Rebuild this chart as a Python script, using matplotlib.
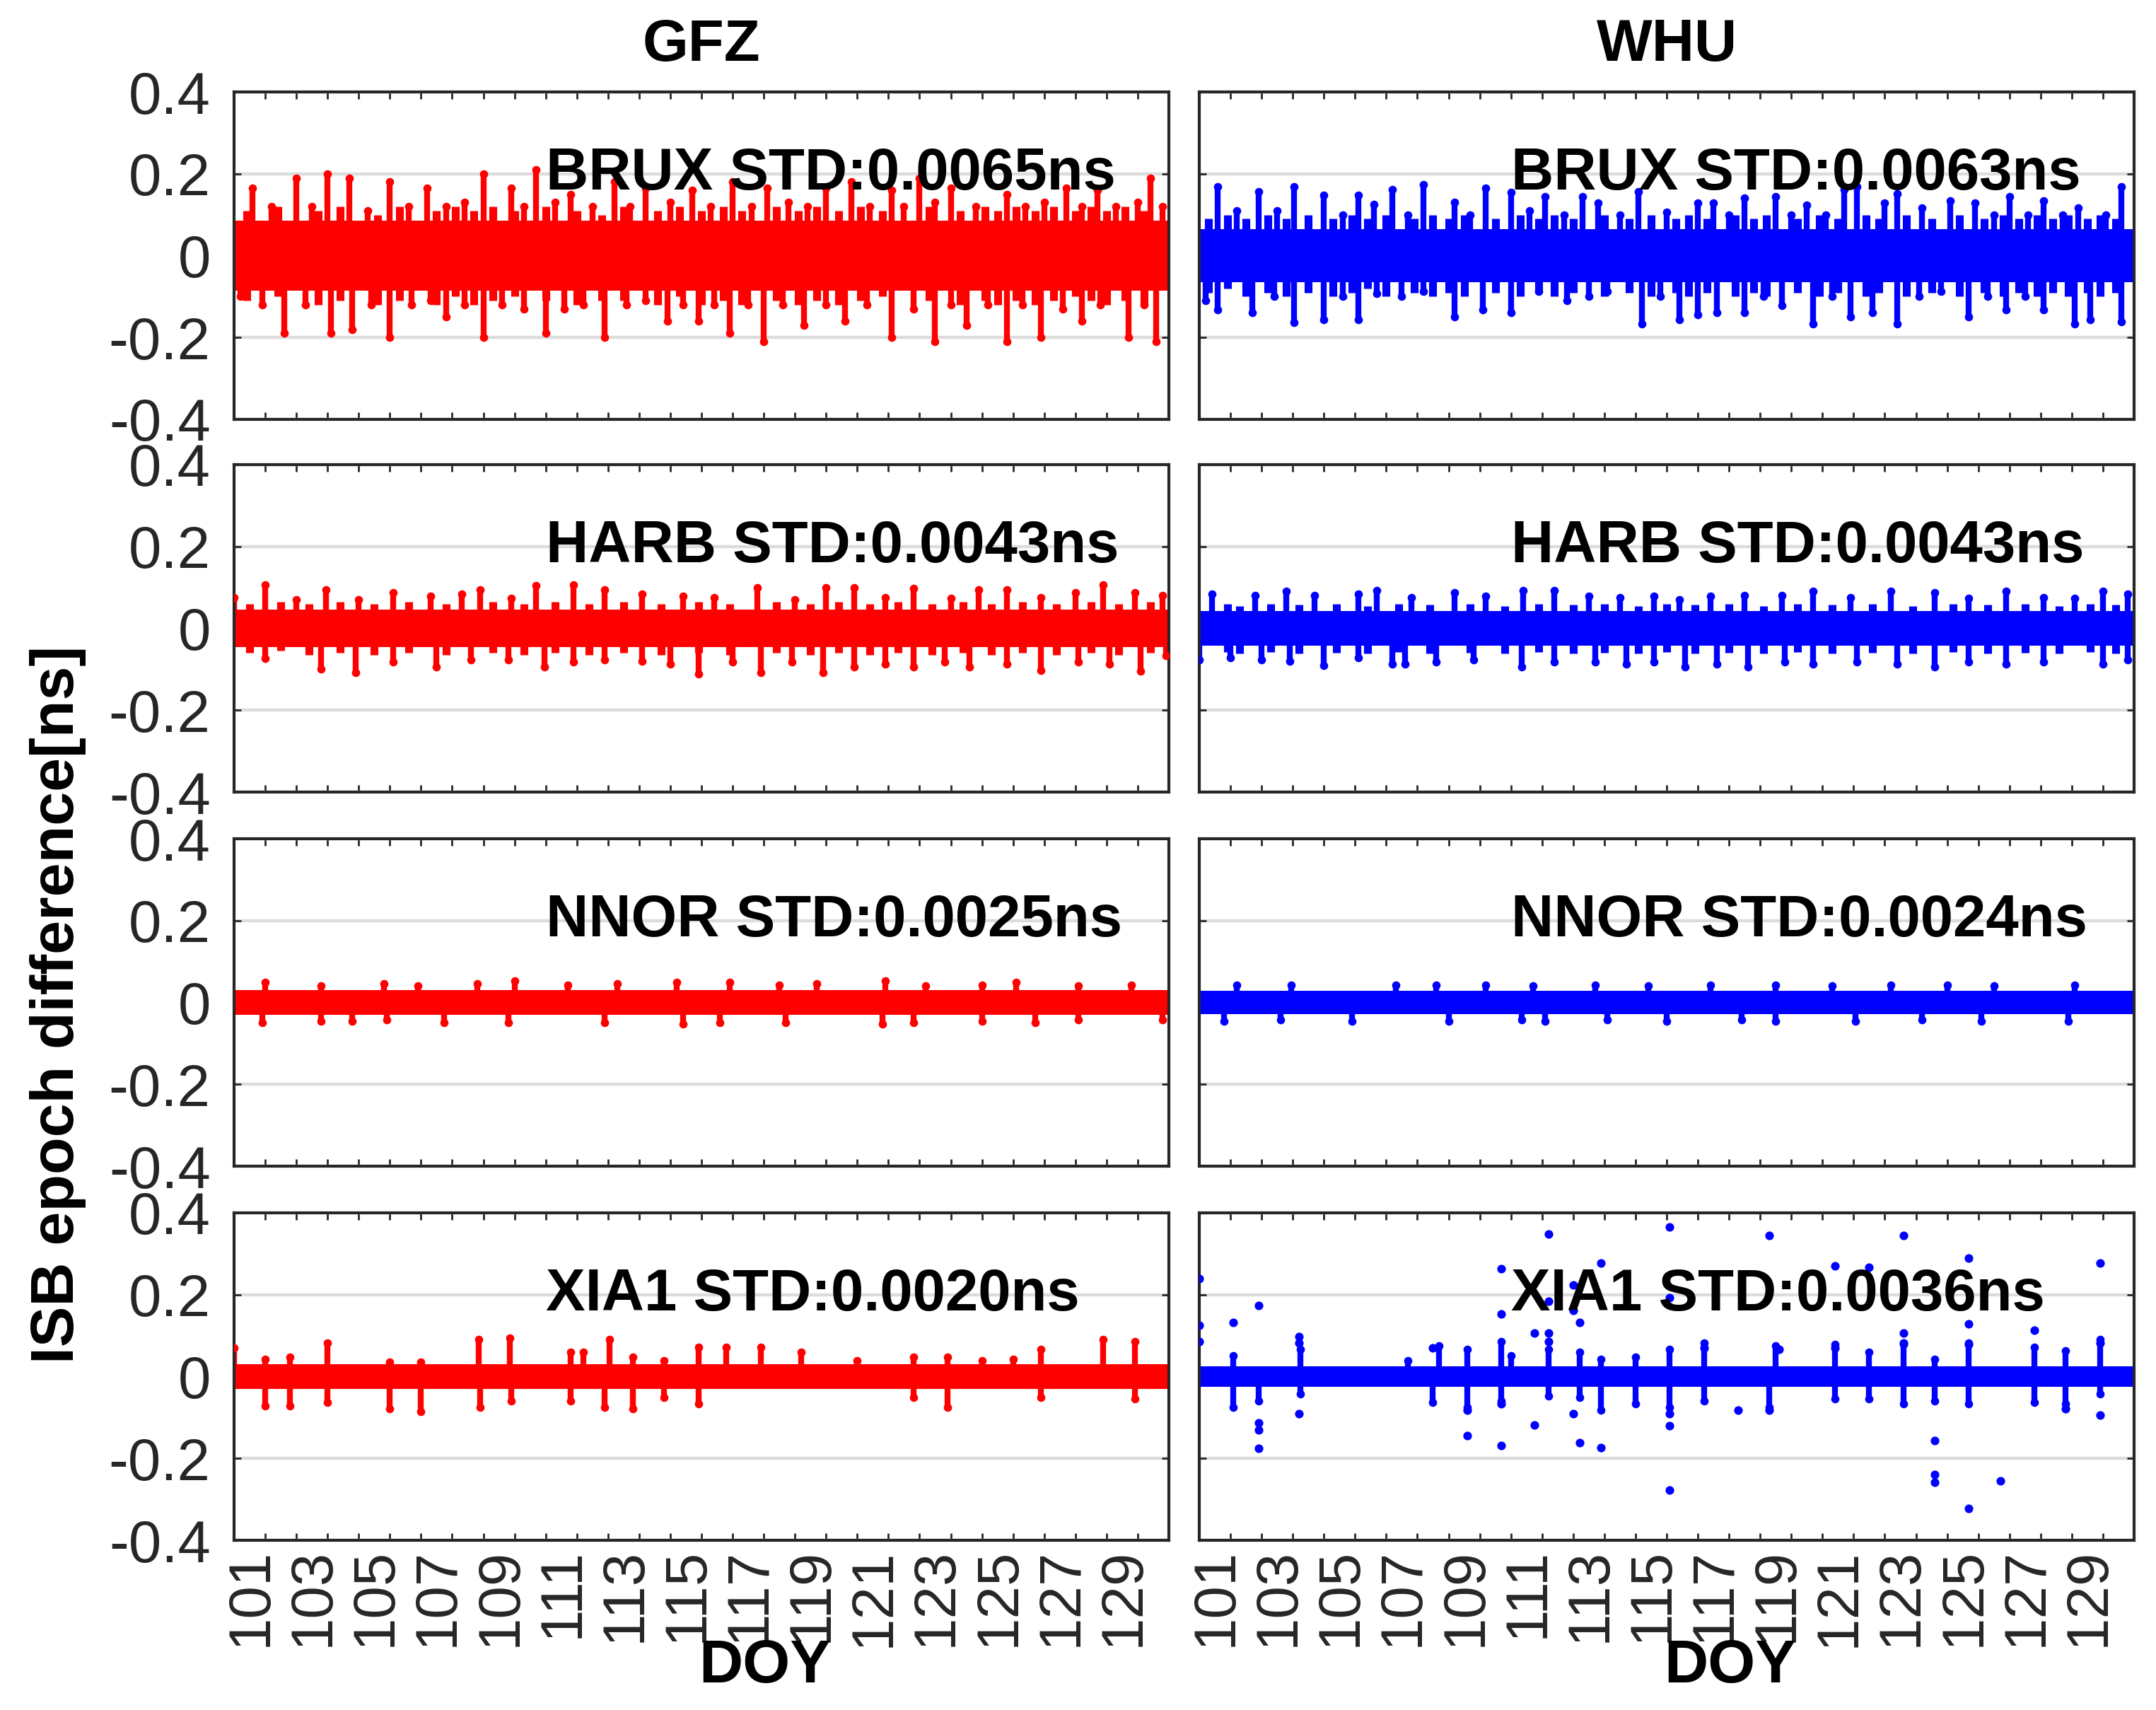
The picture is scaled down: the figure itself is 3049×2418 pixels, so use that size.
import matplotlib
matplotlib.use('Agg')
import matplotlib.pyplot as plt
from matplotlib.transforms import ScaledTranslation

plt.rcParams['font.family'] = ['Liberation Sans', 'DejaVu Sans']

# DOY axis range and labels
doy_start, doy_end = 101, 131
doy_ticks = list(range(101, 132))
doy_labels = [str(d) if (d % 2 == 1 and d <= 129) else '' for d in doy_ticks]
isb_ticks = [-0.4, -0.2, 0, 0.2, 0.4]
isb_labels = ['-0.4', '-0.2', '0', '0.2', '0.4']

centers = ['GFZ', 'WHU']
stations = ['BRUX', 'HARB', 'NNOR', 'XIA1']
std_gfz = ['0.0065', '0.0043', '0.0025', '0.0020']
std_whu = ['0.0063', '0.0043', '0.0024', '0.0036']

# half width of the dense core of each series (ns)
core_gfz = [0.085, 0.045, 0.03, 0.03]
core_whu = [0.065, 0.042, 0.028, 0.025]

# ragged fringe of the core: (DOY, upper, lower)
brux_gfz_fringe = [(101.4, 0.11, -0.11), (102.4, 0.12, -0.10), (103.7, 0.11, -0.12), (104.4, 0.12, -0.11),
                   (105.6, 0.10, -0.12), (106.3, 0.12, -0.11), (107.5, 0.11, -0.12), (108.1, 0.12, -0.10),
                   (108.7, 0.11, -0.12), (109.3, 0.12, -0.11), (110.0, 0.11, -0.10), (111.0, 0.12, -0.11),
                   (112.0, 0.11, -0.12), (112.8, 0.10, -0.11), (113.5, 0.12, -0.11), (114.6, 0.11, -0.12),
                   (115.3, 0.12, -0.10), (116.0, 0.11, -0.12), (116.7, 0.12, -0.11), (117.3, 0.11, -0.12),
                   (118.4, 0.12, -0.11), (119.1, 0.11, -0.12), (119.7, 0.12, -0.11), (120.4, 0.11, -0.12),
                   (121.1, 0.12, -0.11), (121.8, 0.11, -0.10), (123.3, 0.12, -0.11), (124.3, 0.11, -0.12),
                   (125.1, 0.12, -0.11), (125.5, 0.11, -0.12), (126.1, 0.12, -0.11), (126.7, 0.11, -0.12),
                   (127.3, 0.12, -0.11), (128.0, 0.11, -0.10), (128.5, 0.12, -0.11), (129.0, 0.11, -0.12),
                   (129.6, 0.12, -0.11), (130.2, 0.11, -0.12)]
brux_whu_fringe = [(101.3, 0.09, -0.09), (101.9, 0.10, -0.08), (102.5, 0.09, -0.10), (103.2, 0.10, -0.09),
                   (103.8, 0.09, -0.10), (104.5, 0.10, -0.09), (105.3, 0.09, -0.10), (105.9, 0.10, -0.09),
                   (106.4, 0.09, -0.08), (107.0, 0.10, -0.10), (107.9, 0.09, -0.09), (108.5, 0.10, -0.10),
                   (109.0, 0.09, -0.09), (109.5, 0.10, -0.10), (110.5, 0.09, -0.09), (111.3, 0.10, -0.10),
                   (111.9, 0.09, -0.09), (112.4, 0.10, -0.10), (113.0, 0.09, -0.09), (114.0, 0.10, -0.10),
                   (114.8, 0.09, -0.09), (115.5, 0.10, -0.10), (116.3, 0.09, -0.09), (116.7, 0.10, -0.10),
                   (117.3, 0.09, -0.09), (118.2, 0.10, -0.10), (118.8, 0.09, -0.09), (119.2, 0.10, -0.10),
                   (120.2, 0.09, -0.09), (120.9, 0.10, -0.10), (121.5, 0.09, -0.09), (122.4, 0.10, -0.10),
                   (122.8, 0.09, -0.09), (123.7, 0.10, -0.10), (124.5, 0.09, -0.09), (125.4, 0.10, -0.10),
                   (126.2, 0.09, -0.09), (126.8, 0.10, -0.10), (127.3, 0.09, -0.09), (127.9, 0.10, -0.10),
                   (128.4, 0.09, -0.09), (128.9, 0.10, -0.10), (129.5, 0.09, -0.09), (129.9, 0.10, -0.10),
                   (130.4, 0.09, -0.09)]
harb_gfz_fringe = [(101.5, 0.06, -0.06), (102.5, 0.065, -0.055), (103.4, 0.06, -0.065), (104.4, 0.065, -0.06),
                   (105.5, 0.06, -0.065), (106.6, 0.065, -0.06), (107.8, 0.06, -0.065), (109.3, 0.065, -0.06),
                   (110.3, 0.06, -0.065), (111.3, 0.065, -0.06), (112.4, 0.06, -0.065), (113.5, 0.065, -0.06),
                   (114.7, 0.06, -0.065), (115.9, 0.065, -0.06), (116.9, 0.06, -0.065), (118.4, 0.065, -0.06),
                   (119.5, 0.06, -0.065), (120.4, 0.065, -0.06), (121.4, 0.06, -0.065), (122.3, 0.065, -0.06),
                   (123.4, 0.06, -0.065), (124.4, 0.065, -0.06), (125.3, 0.06, -0.065), (126.3, 0.065, -0.06),
                   (127.4, 0.06, -0.065), (128.5, 0.065, -0.06), (129.4, 0.06, -0.065), (130.4, 0.065, -0.06)]
harb_whu_fringe = [(101.9, 0.06, -0.058), (102.3, 0.055, -0.062), (103.3, 0.06, -0.058), (104.2, 0.058, -0.062),
                   (105.4, 0.06, -0.06), (106.4, 0.055, -0.062), (107.4, 0.06, -0.058), (108.4, 0.058, -0.062),
                   (109.7, 0.06, -0.06), (110.8, 0.055, -0.062), (111.9, 0.06, -0.058), (113.0, 0.058, -0.062),
                   (114.0, 0.06, -0.06), (115.1, 0.055, -0.062), (116.0, 0.06, -0.058), (116.9, 0.058, -0.062),
                   (118.0, 0.06, -0.06), (119.1, 0.055, -0.062), (120.2, 0.06, -0.058), (121.3, 0.058, -0.062),
                   (122.6, 0.06, -0.06), (123.9, 0.055, -0.062), (125.2, 0.06, -0.058), (126.3, 0.058, -0.062),
                   (127.5, 0.06, -0.06), (128.6, 0.055, -0.062), (129.6, 0.06, -0.058), (130.4, 0.058, -0.062)]

# spike tips (DOY, ns)
brux_gfz_up = [(101.6, 0.165), (102.2, 0.12), (103.0, 0.19), (103.5, 0.12), (104.0, 0.20), (104.7, 0.19),
               (105.3, 0.11), (106.0, 0.18), (106.6, 0.12), (107.2, 0.165), (107.8, 0.12), (108.4, 0.13),
               (109.0, 0.20), (109.9, 0.165), (110.3, 0.12), (110.7, 0.21), (111.3, 0.13), (111.8, 0.15),
               (112.5, 0.12), (113.2, 0.18), (113.7, 0.12), (114.2, 0.165), (115.0, 0.13), (115.7, 0.16),
               (116.3, 0.12), (117.0, 0.18), (117.6, 0.12), (118.1, 0.165), (118.8, 0.13), (119.4, 0.12),
               (120.0, 0.165), (120.8, 0.18), (121.4, 0.12), (122.1, 0.16), (122.5, 0.12), (123.0, 0.19),
               (123.5, 0.13), (124.0, 0.165), (124.8, 0.12), (125.8, 0.15), (126.4, 0.12), (127.0, 0.13),
               (127.7, 0.165), (128.2, 0.12), (128.7, 0.16), (129.3, 0.12), (130.0, 0.13), (130.4, 0.19),
               (130.8, 0.12)]
brux_gfz_lo = [(101.2, -0.10), (101.9, -0.12), (102.6, -0.19), (103.3, -0.12), (104.1, -0.19), (104.8, -0.18),
               (105.4, -0.12), (106.0, -0.20), (106.7, -0.12), (107.3, -0.11), (107.8, -0.15), (108.4, -0.12),
               (109.0, -0.20), (109.6, -0.12), (110.3, -0.13), (111.0, -0.19), (111.6, -0.13), (112.2, -0.12),
               (112.9, -0.20), (113.6, -0.12), (114.2, -0.11), (114.9, -0.16), (115.4, -0.12), (115.9, -0.16),
               (116.4, -0.12), (116.9, -0.19), (117.5, -0.12), (118.0, -0.21), (118.6, -0.12), (119.3, -0.17),
               (120.0, -0.12), (120.6, -0.16), (121.3, -0.12), (122.1, -0.20), (122.8, -0.13), (123.5, -0.21),
               (124.0, -0.12), (124.5, -0.17), (125.2, -0.12), (125.8, -0.21), (126.3, -0.12), (126.9, -0.20),
               (127.6, -0.13), (128.2, -0.16), (128.8, -0.12), (129.7, -0.20), (130.2, -0.12), (130.6, -0.21)]

brux_whu_up = [(101.6, 0.168), (102.2, 0.11), (102.9, 0.157), (103.5, 0.11), (104.05, 0.168), (105.0, 0.148),
               (105.6, 0.10), (106.1, 0.148), (106.6, 0.126), (107.2, 0.162), (107.7, 0.10), (108.2, 0.174),
               (109.2, 0.131), (109.7, 0.10), (110.2, 0.165), (111.0, 0.154), (111.6, 0.11), (112.1, 0.145),
               (112.7, 0.10), (113.3, 0.145), (113.8, 0.128), (114.5, 0.10), (115.1, 0.157), (116.0, 0.106),
               (117.0, 0.128), (117.5, 0.128), (118.0, 0.10), (118.5, 0.14), (119.5, 0.145), (120.0, 0.10),
               (120.5, 0.123), (121.1, 0.10), (121.7, 0.162), (122.1, 0.168), (123.0, 0.128), (123.4, 0.151),
               (124.2, 0.117), (125.1, 0.134), (125.9, 0.128), (126.5, 0.10), (127.0, 0.145), (127.6, 0.10),
               (128.1, 0.134), (128.7, 0.10), (129.2, 0.117), (130.1, 0.10), (130.6, 0.168)]
brux_whu_lo = [(101.2, -0.11), (101.6, -0.133), (102.7, -0.139), (103.4, -0.10), (104.05, -0.164),
               (105.0, -0.156), (105.6, -0.10), (106.1, -0.156), (106.7, -0.093), (107.5, -0.10), (108.2, -0.088),
               (109.2, -0.15), (110.1, -0.133), (111.0, -0.139), (111.9, -0.088), (112.8, -0.11), (113.5, -0.10),
               (114.1, -0.088), (115.2, -0.167), (115.8, -0.10), (116.4, -0.156), (117.0, -0.144), (117.6, -0.139),
               (118.5, -0.139), (119.1, -0.10), (119.7, -0.122), (120.7, -0.167), (121.3, -0.10), (121.9, -0.15),
               (122.6, -0.139), (123.4, -0.167), (124.1, -0.10), (124.8, -0.088), (125.7, -0.15), (126.3, -0.10),
               (126.9, -0.133), (127.5, -0.10), (128.1, -0.133), (129.1, -0.167), (129.6, -0.156), (130.6, -0.161)]

harb_gfz_up = [(101.0, 0.076), (102.0, 0.107), (103.0, 0.07), (103.95, 0.095), (105.0, 0.07), (106.1, 0.087),
               (107.3, 0.078), (108.3, 0.084), (108.9, 0.095), (109.9, 0.073), (110.7, 0.104), (111.9, 0.107),
               (112.9, 0.095), (114.1, 0.084), (115.4, 0.078), (116.4, 0.076), (117.8, 0.10), (119.0, 0.07),
               (120.0, 0.10), (120.9, 0.10), (121.9, 0.076), (122.8, 0.098), (124.0, 0.073), (124.9, 0.095),
               (125.8, 0.095), (126.9, 0.076), (128.0, 0.087), (128.9, 0.107), (129.9, 0.087), (130.8, 0.081)]
harb_gfz_lo = [(102.0, -0.074), (103.8, -0.099), (104.9, -0.108), (106.1, -0.082), (107.5, -0.094),
               (108.6, -0.077), (109.8, -0.077), (110.96, -0.094), (111.9, -0.082), (112.9, -0.077),
               (114.1, -0.08), (115.0, -0.088), (115.9, -0.111), (117.0, -0.082), (117.9, -0.108),
               (118.9, -0.082), (119.9, -0.108), (120.9, -0.094), (121.9, -0.088), (122.8, -0.094),
               (123.8, -0.082), (124.6, -0.094), (125.8, -0.088), (126.9, -0.102), (128.1, -0.082),
               (129.1, -0.088), (130.1, -0.105), (130.9, -0.066)]

harb_whu_up = [(101.4, 0.084), (102.8, 0.08), (103.8, 0.09), (104.7, 0.08), (106.1, 0.084), (106.7, 0.093),
               (107.8, 0.076), (109.2, 0.087), (110.2, 0.078), (111.4, 0.093), (112.4, 0.093), (113.5, 0.078),
               (114.5, 0.076), (115.6, 0.078), (116.4, 0.07), (117.4, 0.078), (118.5, 0.081), (119.7, 0.081),
               (120.7, 0.09), (121.9, 0.076), (123.2, 0.09), (124.6, 0.087), (125.7, 0.073), (126.9, 0.09),
               (128.1, 0.076), (129.1, 0.073), (130.0, 0.09), (130.8, 0.084)]
harb_whu_lo = [(101.0, -0.077), (102.0, -0.071), (103.0, -0.077), (103.9, -0.08), (105.0, -0.091),
               (106.1, -0.071), (107.2, -0.088), (107.6, -0.088), (108.6, -0.082), (109.8, -0.077),
               (111.35, -0.094), (112.4, -0.082), (113.7, -0.082), (114.7, -0.088), (115.6, -0.082),
               (116.6, -0.094), (117.6, -0.088), (118.6, -0.094), (119.8, -0.082), (120.7, -0.088),
               (122.1, -0.082), (123.4, -0.088), (124.6, -0.094), (125.7, -0.082), (126.9, -0.088),
               (128.1, -0.082), (130.0, -0.088), (130.8, -0.077)]

nnor_gfz_up = [(102.0, 0.049), (103.8, 0.04), (105.8, 0.046), (106.9, 0.04), (108.8, 0.046), (110.0, 0.052),
               (111.7, 0.043), (113.3, 0.046), (115.2, 0.049), (116.9, 0.049), (118.5, 0.043), (119.7, 0.046),
               (121.9, 0.052), (123.2, 0.04), (125.0, 0.043), (126.1, 0.049), (128.1, 0.04), (129.8, 0.043)]
nnor_gfz_lo = [(101.9, -0.049), (103.8, -0.046), (104.8, -0.046), (105.9, -0.043), (107.75, -0.049),
               (109.8, -0.049), (112.9, -0.049), (115.4, -0.052), (116.6, -0.049), (118.7, -0.049),
               (121.8, -0.052), (122.8, -0.049), (125.0, -0.046), (126.7, -0.049), (128.1, -0.043),
               (130.8, -0.043)]

nnor_whu_up = [(102.2, 0.043), (103.96, 0.043), (107.3, 0.043), (108.6, 0.043), (110.2, 0.043), (111.7, 0.04),
               (113.7, 0.043), (115.4, 0.04), (117.4, 0.043), (119.5, 0.043), (121.3, 0.04), (123.2, 0.043),
               (125.0, 0.043), (126.5, 0.04), (129.1, 0.043)]
nnor_whu_lo = [(101.8, -0.046), (103.6, -0.043), (105.9, -0.046), (109.0, -0.046), (111.35, -0.043),
               (112.1, -0.046), (114.1, -0.043), (116.0, -0.046), (118.4, -0.043), (119.5, -0.046),
               (122.05, -0.046), (124.2, -0.043), (126.1, -0.046), (128.9, -0.046)]

xia1_gfz_up = [(101.0, 0.07), (102.0, 0.043), (102.8, 0.047), (104.0, 0.082), (106.0, 0.035), (107.0, 0.035),
               (108.85, 0.09), (109.85, 0.094), (111.8, 0.059), (112.2, 0.059), (113.05, 0.09), (113.8, 0.047),
               (114.8, 0.039), (115.9, 0.071), (116.8, 0.071), (117.9, 0.071), (119.2, 0.059), (121.0, 0.039),
               (122.8, 0.047), (123.9, 0.047), (125.0, 0.039), (126.0, 0.043), (126.9, 0.067), (128.9, 0.09),
               (129.9, 0.086)]
xia1_gfz_lo = [(102.0, -0.071), (102.8, -0.071), (104.0, -0.063), (106.0, -0.078), (107.0, -0.086),
               (108.9, -0.075), (109.9, -0.059), (111.8, -0.059), (112.9, -0.075), (113.8, -0.078),
               (114.8, -0.051), (115.9, -0.067), (122.8, -0.051), (123.9, -0.075), (126.9, -0.051),
               (129.9, -0.055)]

xia1_whu_up = [(102.1, 0.051), (104.25, 0.067), (107.7, 0.039), (108.7, 0.075), (109.6, 0.067), (110.7, 0.086),
               (111.0, 0.051), (112.2, 0.067), (113.2, 0.059), (113.9, 0.043), (115.0, 0.047), (116.1, 0.067),
               (117.2, 0.082), (119.5, 0.075), (121.4, 0.078), (122.5, 0.059), (123.6, 0.078), (124.6, 0.043),
               (125.7, 0.082), (127.8, 0.071), (128.8, 0.063), (129.9, 0.09)]
xia1_whu_lo = [(102.1, -0.075), (102.9, -0.059), (104.25, -0.043), (108.5, -0.063), (109.6, -0.075),
               (110.7, -0.059), (112.2, -0.047), (113.2, -0.051), (113.9, -0.082), (115.0, -0.067),
               (116.1, -0.075), (117.2, -0.059), (119.3, -0.075), (121.4, -0.055), (122.5, -0.055),
               (123.6, -0.067), (124.6, -0.059), (125.7, -0.067), (127.8, -0.063), (128.8, -0.067),
               (129.9, -0.043)]
# isolated outliers of the WHU XIA1 series
xia1_whu_dots = [(101.0, 0.239), (101.0, 0.125), (101.0, 0.086), (102.1, 0.133), (102.9, 0.173),
                 (102.9, -0.114), (102.9, -0.13), (102.9, -0.176), (104.2, 0.098), (104.2, 0.082),
                 (104.2, -0.09), (108.5, 0.07), (109.6, -0.082), (109.6, -0.145), (110.7, 0.263),
                 (110.7, 0.153), (110.7, -0.067), (110.7, -0.169), (111.75, 0.106), (111.75, -0.118),
                 (112.2, 0.349), (112.2, 0.184), (112.2, 0.106), (112.2, 0.086), (113.0, 0.224),
                 (113.0, 0.161), (113.0, -0.09), (113.2, 0.133), (113.2, -0.161), (113.9, 0.278),
                 (113.9, -0.173), (116.1, 0.365), (116.1, 0.192), (116.1, -0.09), (116.1, -0.12),
                 (116.1, -0.278), (117.2, 0.07), (118.3, -0.082), (119.3, 0.345), (119.3, -0.082),
                 (119.6, 0.067), (121.4, 0.271), (121.4, 0.07), (122.5, 0.267), (123.6, 0.345),
                 (123.6, 0.106), (123.6, 0.082), (124.6, -0.157), (124.6, -0.239), (124.6, -0.259),
                 (125.7, 0.29), (125.7, 0.129), (125.7, 0.078), (125.7, -0.322), (126.7, -0.255),
                 (127.8, 0.114), (128.8, -0.078), (129.9, 0.278), (129.9, 0.082), (129.9, -0.094)]

gfz_fringe = [brux_gfz_fringe, harb_gfz_fringe, [], []]
whu_fringe = [brux_whu_fringe, harb_whu_fringe, [], []]
gfz_up = [brux_gfz_up, harb_gfz_up, nnor_gfz_up, xia1_gfz_up]
gfz_lo = [brux_gfz_lo, harb_gfz_lo, nnor_gfz_lo, xia1_gfz_lo]
whu_up = [brux_whu_up, harb_whu_up, nnor_whu_up, xia1_whu_up]
whu_lo = [brux_whu_lo, harb_whu_lo, nnor_whu_lo, xia1_whu_lo]
whu_dots = [[], [], [], xia1_whu_dots]


def draw_series(ax, core, fringe, up, lo, dots, color):
    ax.fill_between([doy_start, doy_end], -core, core, color=color, lw=0, zorder=2)
    if fringe:
        fx = [f[0] for f in fringe]
        ax.vlines(fx, [f[2] for f in fringe], [f[1] for f in fringe], color=color, lw=4.0, zorder=2)
    for pts in (up, lo):
        x = [p[0] for p in pts]
        y = [p[1] for p in pts]
        ax.vlines(x, 0, y, color=color, lw=3.0, zorder=2)
        ax.plot(x, y, 'o', ms=4.2, color=color, mec='none', zorder=3)
    if dots:
        ax.plot([p[0] for p in dots], [p[1] for p in dots], 'o', ms=4.4, color=color, mec='none', zorder=3)


W, H = 3049, 2418
fig = plt.figure(figsize=(W / 200, H / 200), dpi=200)

col_x = [331 / W, 1696 / W]
ax_w = 1322 / W
row_bottom = [593, 1120, 1649, 2178]
ax_h = 463 / H

shift = ScaledTranslation(8.5 / 72, 0, fig.dpi_scale_trans)

for c in range(2):
    for r in range(4):
        ax = fig.add_axes([col_x[c], 1 - row_bottom[r] / H, ax_w, ax_h])
        if c == 0:
            draw_series(ax, core_gfz[r], gfz_fringe[r], gfz_up[r], gfz_lo[r], [], '#ff0000')
            label = stations[r] + ' STD:' + std_gfz[r] + 'ns'
        else:
            draw_series(ax, core_whu[r], whu_fringe[r], whu_up[r], whu_lo[r], whu_dots[r], '#0000ff')
            label = stations[r] + ' STD:' + std_whu[r] + 'ns'

        ax.text(111.0, 0.2, label, fontsize=30, fontweight='bold', ha='left', va='center', zorder=5)

        ax.set_xlim(doy_start, doy_end)
        ax.set_ylim(-0.4, 0.4)
        ax.set_xticks(doy_ticks)
        ax.set_yticks(isb_ticks)
        ax.yaxis.grid(True, color='#dcdcdc', lw=1.6, zorder=0)
        ax.set_axisbelow(True)
        for s in ax.spines.values():
            s.set_linewidth(1.5)
            s.set_color('#262626')
        ax.tick_params(direction='in', top=True, right=True, length=3.6, width=1.0, color='#262626',
                       labelsize=30, labelcolor='#262626')
        ax.tick_params(axis='y', pad=12)
        ax.tick_params(axis='x', pad=4)

        if c == 0:
            ax.set_yticklabels(isb_labels)
        else:
            ax.set_yticklabels([])
        if r == 3:
            ax.set_xticklabels(doy_labels, rotation=90, ha='center', va='top')
            for lab in ax.get_xticklabels():
                lab.set_transform(lab.get_transform() + shift)
            fig.text(col_x[c] + ax_w * 0.568, 1 - 2357 / H, 'DOY', fontsize=31, fontweight='bold',
                     ha='center', va='center')
        else:
            ax.set_xticklabels([])

    fig.text(col_x[c] + ax_w / 2, 1 - 64 / H, centers[c], fontsize=30, fontweight='bold',
             ha='center', va='center')

fig.text(82 / W, 1 - 1420 / H, 'ISB epoch difference[ns]', fontsize=31, fontweight='bold',
         rotation=90, ha='center', va='center')

fig.savefig('out.png', dpi=200, facecolor='white')
